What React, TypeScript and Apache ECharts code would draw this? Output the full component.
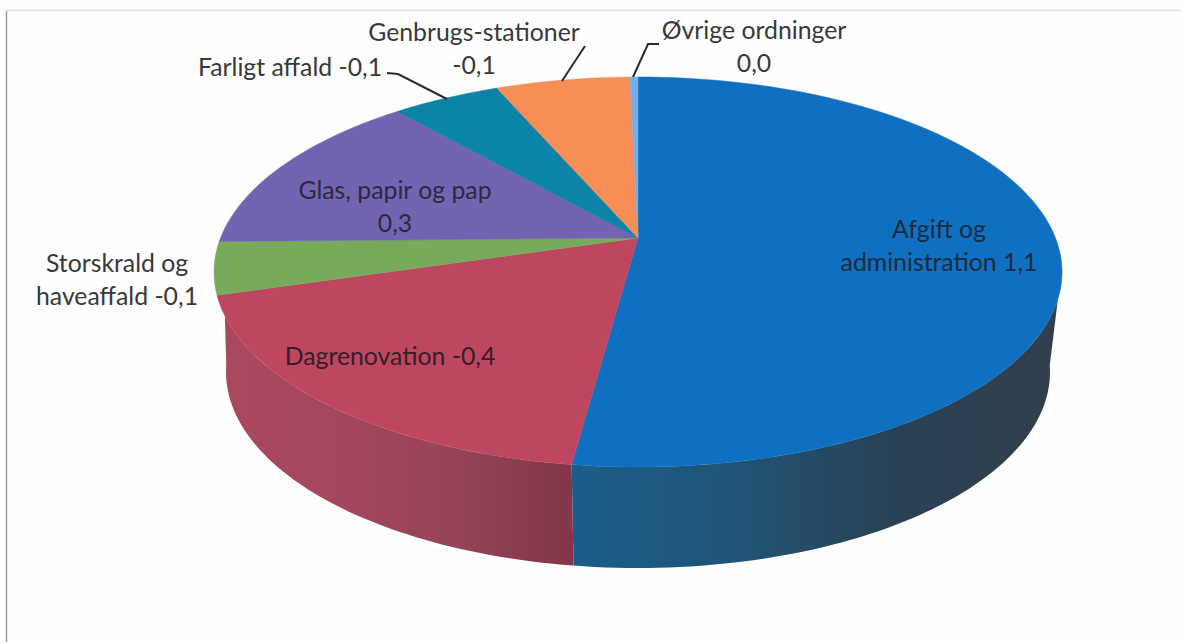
import React, { useEffect, useRef } from "react";
import * as echarts from "echarts";

// Slice names and printed values, clockwise from the top of the pie
const categories = ["Afgift og administration", "Dagrenovation", "Storskrald og haveaffald", "Glas, papir og pap", "Farligt affald", "Genbrugs-stationer", "Øvrige ordninger"];
const shares = [52.5, 20.6, 4.4, 12.9, 4.2, 5.1, 0.3];
const topColors = ["#0f6fc0", "#bf465f", "#78aa5c", "#7364b2", "#0b84a8", "#f68e55", "#78aee6"];
const wallStops: (string[] | null)[] = [
  ["#1b5d8b", "#1f5476", "#2a4155", "#323f4c"],
  ["#a9485f", "#a4475c", "#964356", "#83374a"],
  null, null, null, null, null,
];

const labelTexts = [
  "Afgift og\nadministration 1,1",
  "Dagrenovation -0,4",
  "Storskrald og\nhaveaffald -0,1",
  "Glas, papir og pap\n0,3",
  "Farligt affald -0,1",
  "Genbrugs-stationer\n-0,1",
  "Øvrige ordninger\n0,0",
];
const labelCentres = [[939, 245], [390, 355], [117, 279], [395, 206], [290, 66], [474, 48], [754, 46]];
const labelColors = ["#1d2c3c", "#33202a", "#383838", "#2c2a3e", "#383838", "#383838", "#383838"];
const leaders = [
  [[387, 73], [398, 74], [447, 99]],
  [[585, 46], [562, 81]],
  [[659, 44], [648, 44], [633, 77]],
];

const W = 1181;
const H = 642;
const APEX = [638, 238];
const TOP = { cx: 638, cy: 272, rx: 424, ry: 195 };
const BOTTOM = { cx: 638, cy: 372, rx: 412, ry: 196 };
// Rim angles between which the wall shows under the top face
const WALL_TOP_RANGE = [98, 257];
const WALL_BOTTOM_RANGE = [88, 272];
const total = shares.reduce((a, b) => a + b, 0);

const rim = (e: typeof TOP, deg: number) => {
  const t = (deg * Math.PI) / 180;
  return [e.cx + e.rx * Math.sin(t), e.cy - e.ry * Math.cos(t)];
};
const arcPoints = (e: typeof TOP, from: number, to: number) => {
  const n = Math.max(2, Math.ceil(Math.abs(to - from) / 1.5));
  const pts: number[][] = [];
  for (let i = 0; i <= n; i++) pts.push(rim(e, from + ((to - from) * i) / n));
  return pts;
};
const sliceRange = (i: number, v: number) => {
  const before = shares.slice(0, i).reduce((a, b) => a + b, 0);
  return [(before / total) * 360, ((before + v) / total) * 360];
};

export default function App() {
  const ref = useRef<HTMLDivElement>(null);
  useEffect(() => {
    document.body.style.margin = "0";
    const chart = echarts.init(ref.current!, undefined, { renderer: "svg" });
    const data = shares.map((v, i) => ({ name: categories[i], value: [v] }));
    chart.setOption({
      animation: false,
      backgroundColor: "#fefefe",
      series: [
        {
          type: "custom",
          coordinateSystem: "none",
          silent: true,
          data,
          renderItem: (params: any, api: any) => {
            const i = params.dataIndex;
            const [a, b] = sliceRange(i, api.value(0));
            const stops = wallStops[i];
            if (!stops) return { type: "group", children: [] };
            const pts = [
              ...arcPoints(TOP, Math.max(a, WALL_TOP_RANGE[0]), Math.min(b, WALL_TOP_RANGE[1])),
              ...arcPoints(BOTTOM, Math.min(b, WALL_BOTTOM_RANGE[1]) + (b > WALL_TOP_RANGE[1] ? WALL_BOTTOM_RANGE[1] - Math.min(b, WALL_BOTTOM_RANGE[1]) : 0), Math.max(a, WALL_BOTTOM_RANGE[0])),
            ];
            return {
              type: "polygon",
              shape: { points: pts },
              style: {
                fill: new echarts.graphic.LinearGradient(0, 0, 1, 0, stops.map((c, k) => ({ offset: k / (stops.length - 1), color: c }))),
              },
            };
          },
        },
        {
          type: "custom",
          coordinateSystem: "none",
          silent: true,
          data,
          renderItem: (params: any, api: any) => {
            const i = params.dataIndex;
            const [a, b] = sliceRange(i, api.value(0));
            return {
              type: "polygon",
              shape: { points: [APEX, ...arcPoints(TOP, a, b)] },
              style: { fill: topColors[i], stroke: topColors[i], lineWidth: 0.5 },
            };
          },
        },
      ],
      graphic: [
        { type: "line", shape: { x1: 6.5, y1: 11, x2: 6.5, y2: H }, style: { stroke: "#a0a0a0", lineWidth: 1.5 } },
        { type: "line", shape: { x1: 6, y1: 10.5, x2: W, y2: 10.5 }, style: { stroke: "#e2e2e2", lineWidth: 1.5 } },
        ...leaders.map((pts) => ({
          type: "polyline",
          z: 10,
          shape: { points: pts },
          style: { stroke: "#2b2b2b", lineWidth: 2, fill: "none" },
        })),
        ...labelTexts.map((t, i) => ({
          type: "text",
          z: 10,
          x: labelCentres[i][0],
          y: labelCentres[i][1],
          style: {
            text: t,
            fill: labelColors[i],
            font: '24.8px Lato, "Open Sans", sans-serif',
            lineHeight: 33,
            align: "center",
            verticalAlign: "middle",
          },
        })),
      ],
    });
    return () => chart.dispose();
  }, []);
  return <div ref={ref} style={{ width: W, height: H }} />;
}
